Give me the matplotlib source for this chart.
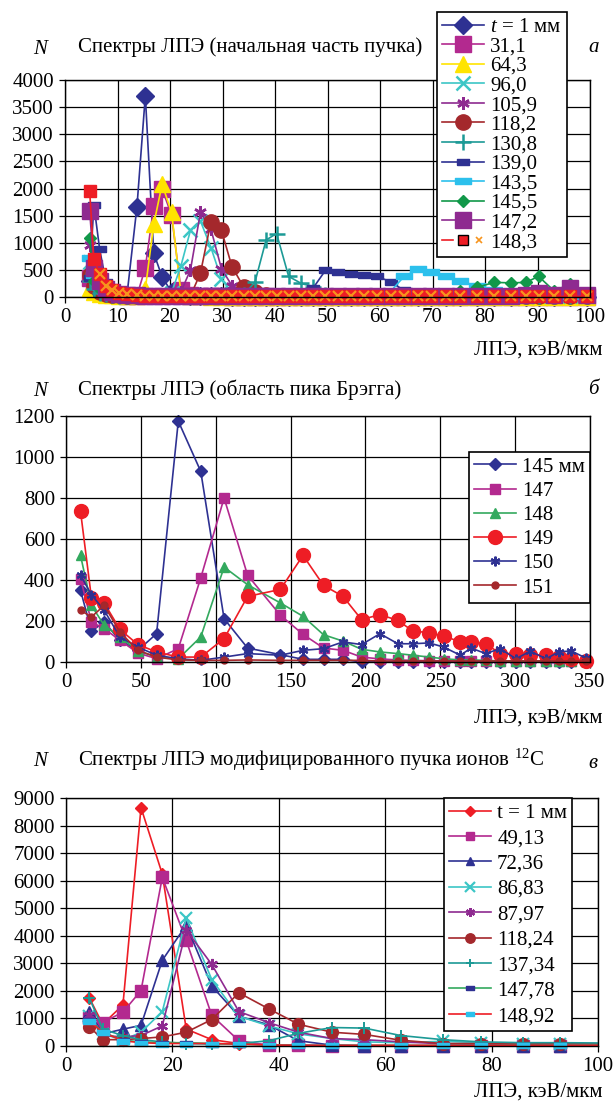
import numpy as np
import matplotlib
matplotlib.use('Agg')
import matplotlib.pyplot as plt
from matplotlib.lines import Line2D
from matplotlib.legend_handler import HandlerTuple

plt.rcParams['font.family'] = ['Liberation Serif', 'DejaVu Serif']
plt.rcParams['mathtext.fontset'] = 'custom'
plt.rcParams['mathtext.rm'] = 'Liberation Serif'
plt.rcParams['mathtext.it'] = 'Liberation Serif:italic'

# ---------------- data: panel a (начальная часть пучка) ----------------
a_let = [4.7, 5.5, 6.6, 7.8, 9.0, 10.3, 11.8, 13.7, 15.3, 16.9, 18.5, 20.3, 22.1, 23.9, 25.8,
         27.8, 29.8, 31.8, 34.0, 36.2, 38.3, 40.3, 42.6, 45.0, 47.3, 49.6, 52.0, 54.5, 57.0,
         59.5, 62.0, 64.6, 67.2, 69.8, 72.5, 75.2, 78.5, 81.8, 85.0, 87.8, 90.2, 93.2, 96.2, 99.5]
a_t1 = [300, 250, 150, 90, 60, 40, 30, 1660, 3710, 810, 370, 90, 40, 20, 15, 10, 10, 5, 5, 5, 5, 5,
        5, 5, 5, 5, 5, 5, 5, 5, 5, 5, 5, 5, 5, 5, 5, 5, 5, 5, 5, 5, 5, 5]
a_311 = [350, 250, 130, 80, 50, 30, 20, 20, 540, 1680, 1990, 1510, 120, 40, 20, 10, 10, 5, 5, 5, 5,
         5, 5, 5, 5, 5, 5, 5, 5, 5, 5, 5, 5, 5, 5, 5, 5, 5, 5, 5, 5, 5, 5, 5]
a_643 = [160, 100, 60, 40, 30, 20, 15, 10, 150, 1340, 2080, 1560, 60, 20, 10, 5, 5, 5, 5, 5, 5, 5,
         5, 5, 5, 5, 5, 5, 5, 5, 5, 5, 5, 5, 5, 5, 5, 5, 5, 5, 5, 5, 5, 5]
a_960 = [640, 300, 150, 80, 50, 30, 20, 15, 10, 10, 20, 80, 580, 1230, 1400, 910, 330, 80, 30, 15,
         10, 10, 10, 10, 10, 10, 10, 10, 10, 10, 10, 10, 10, 10, 10, 10, 10, 10, 10, 10, 10, 10, 10, 10]
a_1059 = [950, 300, 150, 80, 50, 30, 20, 15, 10, 10, 10, 20, 100, 500, 1560, 1250, 520, 210, 60,
          20, 10, 10, 10, 10, 10, 10, 10, 10, 10, 10, 10, 10, 10, 10, 10, 10, 10, 10, 10, 10, 10, 10, 10, 10]
a_1182 = [400, 200, 100, 60, 40, 30, 20, 15, 10, 10, 10, 10, 10, 20, 440, 1390, 1230, 560, 190,
          100, 40, 20, 10, 10, 10, 10, 10, 10, 10, 10, 10, 10, 10, 10, 10, 10, 10, 10, 10, 10, 10, 10, 10, 10]
a_1308 = [300, 150, 80, 50, 30, 20, 15, 10, 10, 10, 10, 10, 10, 10, 10, 10, 10, 10, 30, 280, 1050,
          1170, 380, 250, 190, 30, 10, 10, 10, 10, 10, 10, 10, 10, 10, 10, 10, 10, 10, 10, 10, 10, 10, 10]
a_1390 = [350, 1700, 880, 280, 100, 50, 30, 20, 15, 10, 10, 10, 10, 10, 10, 10, 10, 10, 10, 10, 10,
          10, 10, 10, 170, 490, 470, 430, 410, 380, 280, 120, 90, 50, 30, 20, 10, 10, 10, 10, 10, 10, 10, 10]
a_1435 = [720, 400, 200, 100, 60, 40, 30, 20, 15, 10, 10, 10, 10, 10, 10, 10, 10, 10, 10, 10, 10,
          10, 10, 10, 10, 10, 10, 10, 10, 20, 100, 380, 510, 460, 380, 300, 200, 130, 80, 60, 40, 30, 20, 10]
a_1455 = [1090, 300, 150, 80, 50, 30, 20, 15, 10, 10, 10, 10, 10, 10, 10, 10, 10, 10, 10, 10, 10,
          10, 10, 10, 10, 10, 10, 10, 10, 10, 10, 10, 20, 40, 60, 110, 180, 270, 260, 270, 380, 110, 240, 60]
a_1472 = [1590, 540, 300, 150, 90, 60, 40, 30, 20, 20, 20, 20, 20, 20, 20, 20, 20, 20, 20, 20, 20,
          20, 20, 20, 20, 20, 20, 20, 20, 20, 20, 20, 20, 20, 20, 20, 20, 20, 20, 40, 80, 30, 170, 30]
a_1483 = [1950, 700, 420, 200, 120, 80, 50, 30, 20, 10, 10, 10, 10, 10, 10, 10, 10, 10, 10, 10, 10,
          10, 10, 10, 10, 10, 10, 10, 10, 10, 10, 10, 10, 10, 10, 10, 10, 10, 10, 10, 10, 10, 10, 10]

# ---------------- data: panel б (область пика Брэгга) ----------------
b_let = [9.7, 17, 25.5, 36, 48, 60.5, 75, 90, 105.6, 121.3, 143.2, 158.3, 172, 185, 197.4, 209.7,
         221.7, 231.6, 242.6, 252.2, 263.4, 270.5, 280.4, 290, 300.5, 310, 320.8, 329, 337.5, 347]
b_145 = [350, 150, 195, 106, 57, 138, 1175, 930, 211, 68, 36, 13, 13, 13, 0, 0, 0, 0, 0, 0, 0, 0,
         0, 0, 0, 0, 0, 0, 0, 0]
b_147 = [407, 195, 163, 106, 44, 16, 65, 410, 800, 423, 228, 135, 68, 57, 24, 15, 10, 8, 6, 5, 5,
         5, 5, 5, 5, 5, 5, 5, 5, 5]
b_148 = [520, 276, 179, 122, 54, 24, 16, 122, 463, 377, 288, 223, 133, 102, 62, 49, 41, 33, 24, 16,
         10, 10, 8, 5, 5, 5, 5, 5, 5, 5]
b_149 = [735, 312, 288, 159, 85, 49, 24, 24, 114, 320, 354, 520, 374, 320, 207, 231, 203, 151, 143,
         127, 98, 98, 89, 41, 41, 36, 33, 24, 13, 3]
b_150 = [423, 328, 252, 122, 73, 33, 16, 8, 24, 41, 33, 57, 65, 98, 85, 138, 89, 89, 93, 73, 33, 68,
         41, 65, 16, 52, 16, 49, 54, 20]
b_151 = [252, 220, 276, 146, 57, 24, 10, 8, 8, 10, 8, 8, 8, 8, 8, 5, 5, 5, 5, 5, 5, 5, 5, 5, 5, 5,
         5, 5, 5, 5]

# ---------------- data: panel в (модифицированный пучок 12C) ----------------
c_let = [4.4, 6.9, 10.7, 14.1, 18.1, 22.6, 27.4, 32.5, 38.1, 43.7, 50.0, 56.1, 62.9, 70.8, 78.0,
         85.9, 92.9, 100]
c_t1 = [1740, 790, 1490, 8650, 6240, 615, 230, 90, 40, 30, 20, 20, 20, 20, 20, 20, 20, 20]
c_4913 = [1020, 850, 1230, 2010, 6120, 3830, 1110, 190, 30, 30, 0, 0, 0, 0, 0, 0, 0, 0]
c_7236 = [1230, 440, 610, 750, 3110, 4390, 2180, 1080, 770, 190, 30, 10, 5, 5, 5, 5, 5, 5]
c_8683 = [1080, 440, 210, 500, 1250, 4640, 2410, 1080, 730, 440, 270, 150, 120, 170, 120, 90, 90, 80]
c_8797 = [1140, 380, 330, 380, 730, 4210, 2960, 1250, 850, 500, 270, 230, 150, 80, 60, 40, 30, 20]
c_11824 = [700, 230, 230, 270, 330, 500, 960, 1930, 1350, 790, 500, 420, 210, 90, 90, 70, 90, 80]
c_13734 = [1740, 610, 380, 230, 150, 90, 70, 90, 190, 460, 670, 650, 380, 230, 150, 120, 120, 110]
c_14778 = [960, 500, 210, 150, 120, 120, 90, 70, 35, 20, 20, 20, 20, 20, 20, 20, 20, 20]
c_14892 = [900, 500, 190, 120, 90, 90, 90, 70, 35, 20, 20, 20, 20, 20, 20, 20, 20, 20]

# ---------------- styles ----------------
NAVY = '#2E3192'
MAG = '#B3298F'
YEL = '#FFE400'
CYAN = '#3CC6C6'
PURP = '#8E2A90'
DRED = '#A4282C'
TEAL = '#1C9A96'
LBLUE = '#2CC0EC'
GREEN = '#119849'
GREEN2 = '#33A95E'
RED = '#EE1D25'
ORANGE = '#F7941D'

rect = [(-1, -0.45), (1, -0.45), (1, 0.45), (-1, 0.45), (-1, -0.45)]
star = (6, 2, 0)

W, H = 613, 1108
fig = plt.figure(figsize=(W / 100, H / 100), dpi=100)
FS = 15


def fx(px):
    return px / W


def fy(py):
    return 1 - py / H


def setup(ax, xmax, xstep, ymax, ystep):
    ax.set_xlim(0, xmax)
    ax.set_ylim(0, ymax)
    ax.set_xticks(np.arange(0, xmax + 0.1, xstep))
    ax.set_yticks(np.arange(0, ymax + 0.1, ystep))
    ax.grid(True, color='black', lw=0.9)
    ax.set_axisbelow(True)
    for s in ax.spines.values():
        s.set_color('black')
        s.set_linewidth(1.0)
    ax.tick_params(direction='out', length=4, width=0.9, labelsize=FS, pad=4)


def draw(ax, x, series, lw=1.2, skip_last=False):
    handles = []
    for lab, y, col, mk, ms, mew in series:
        kw = dict(color=col, lw=lw, marker=mk, ms=ms, mfc=col, mec=col, mew=mew, clip_on=False)
        if skip_last:
            kw['markevery'] = slice(0, len(x) - 1)
        ln, = ax.plot(x, y, **kw)
        handles.append(ln)
    return handles


def legend(ax, handles, labels, x0, y0, spacing, mscale=1.0, **kw):
    leg = ax.legend(handles, labels, loc='upper left', bbox_to_anchor=(fx(x0), fy(y0)),
                    bbox_transform=fig.transFigure, fontsize=FS, frameon=True, fancybox=False,
                    edgecolor='black', framealpha=1, borderaxespad=0, borderpad=0.25,
                    labelspacing=spacing, handlelength=2.0, handletextpad=0.3, **kw)
    leg.get_frame().set_linewidth(1.2)
    leg.set_zorder(10)
    if mscale != 1.0:
        for h in leg.legend_handles:
            if isinstance(h, Line2D):
                h.set_markersize(h.get_markersize() * mscale)
    return leg


# ---------------- panel a ----------------
axa = fig.add_axes([fx(65), fy(297), fx(590) - fx(65), fy(80) - fy(297)])
setup(axa, 100, 10, 4000, 500)
a_series = [
    ('$t$ = 1 мм', a_t1, NAVY, 'D', 9, 1),
    ('31,1', a_311, MAG, 's', 11, 1),
    ('64,3', a_643, YEL, '^', 11, 1),
    ('96,0', a_960, CYAN, 'x', 10, 1.8),
    ('105,9', a_1059, PURP, star, 9, 1.8),
    ('118,2', a_1182, DRED, 'o', 11, 1),
    ('130,8', a_1308, TEAL, '+', 12, 1.8),
    ('139,0', a_1390, NAVY, rect, 9, 1),
    ('143,5', a_1435, LBLUE, rect, 11, 1),
    ('145,5', a_1455, GREEN, 'D', 6, 1),
    ('147,2', a_1472, PURP, 's', 11, 1),
    ('148,3', a_1483, RED, 's', 8.5, 1),
]
ha = draw(axa, a_let, a_series)
axa.plot(a_let[2:], a_1483[2:], ls='none', marker='x', ms=6.5, mew=1.6, color=ORANGE, clip_on=False)
h_last = (Line2D([], [], color=RED, lw=1.2),
          Line2D([], [], ls='none', marker='s', ms=7, mfc=RED, mec='black', mew=1),
          Line2D([], [], ls='none', marker='x', ms=4, mew=1.2, color=ORANGE))
ha[-1] = h_last
legend(axa, ha, [s[0] for s in a_series], 437, 12, 0.0,
       handler_map={tuple: HandlerTuple(ndivide=None)})
fig.text(fx(33), fy(50), 'N', fontsize=FS, style='italic', va='center', ha='left')
fig.text(fx(78), fy(47), 'Спектры ЛПЭ (начальная часть пучка)', fontsize=FS, va='center')
fig.text(fx(588), fy(47), 'а', fontsize=FS, style='italic', va='center')
fig.text(fx(603), fy(350), 'ЛПЭ, кэВ/мкм', fontsize=FS, ha='right', va='center')

# ---------------- panel б ----------------
axb = fig.add_axes([fx(66), fy(662), fx(590) - fx(66), fy(416) - fy(662)])
setup(axb, 350, 50, 1200, 200)
b_series = [
    ('145 мм', b_145, NAVY, 'D', 6, 1),
    ('147', b_147, MAG, 's', 7.5, 1),
    ('148', b_148, GREEN2, '^', 7.5, 1),
    ('149', b_149, RED, 'o', 10, 1),
    ('150', b_150, NAVY, star, 7, 1.5),
    ('151', b_151, DRED, 'o', 5, 1),
]
hb = draw(axb, b_let, b_series)
legend(axb, hb, [s[0] for s in b_series], 469, 452, 0.22)
fig.text(fx(33), fy(392), 'N', fontsize=FS, style='italic', va='center', ha='left')
fig.text(fx(78), fy(390), 'Спектры ЛПЭ (область пика Брэгга)', fontsize=FS, va='center')
fig.text(fx(588), fy(390), 'б', fontsize=FS, style='italic', va='center')
fig.text(fx(603), fy(718), 'ЛПЭ, кэВ/мкм', fontsize=FS, ha='right', va='center')

# ---------------- panel в ----------------
axc = fig.add_axes([fx(66), fy(1046), fx(598) - fx(66), fy(798) - fy(1046)])
setup(axc, 100, 20, 9000, 1000)
c_series = [
    ('t = 1 мм', c_t1, RED, 'D', 6, 1),
    ('49,13', c_4913, MAG, 's', 8, 1),
    ('72,36', c_7236, NAVY, '^', 8, 1),
    ('86,83', c_8683, CYAN, 'x', 9, 1.6),
    ('87,97', c_8797, PURP, star, 8, 1.6),
    ('118,24', c_11824, DRED, 'o', 8.5, 1),
    ('137,34', c_13734, TEAL, '+', 8, 1.4),
    ('147,78', c_14778, GREEN2, rect, 8, 1),
    ('148,92', c_14892, RED, rect, 8, 1),
]
hc = draw(axc, c_let, c_series, skip_last=True)
# marker colours that differ from line colours
hc[7].set_markerfacecolor(NAVY)
hc[7].set_markeredgecolor(NAVY)
hc[8].set_markerfacecolor(LBLUE)
hc[8].set_markeredgecolor(LBLUE)
legend(axc, hc, [s[0] for s in c_series], 444, 798, 0.28, mscale=0.8)
fig.text(fx(33), fy(762), 'N', fontsize=FS, style='italic', va='center', ha='left')
fig.text(fx(78), fy(760), 'Спектры ЛПЭ модифицированного пучка ионов $^{12}$C', fontsize=FS, va='center')
fig.text(fx(588), fy(764), 'в', fontsize=FS, style='italic', va='center')
fig.text(fx(603), fy(1092), 'ЛПЭ, кэВ/мкм', fontsize=FS, ha='right', va='center')

fig.savefig('out.png', dpi=100)
